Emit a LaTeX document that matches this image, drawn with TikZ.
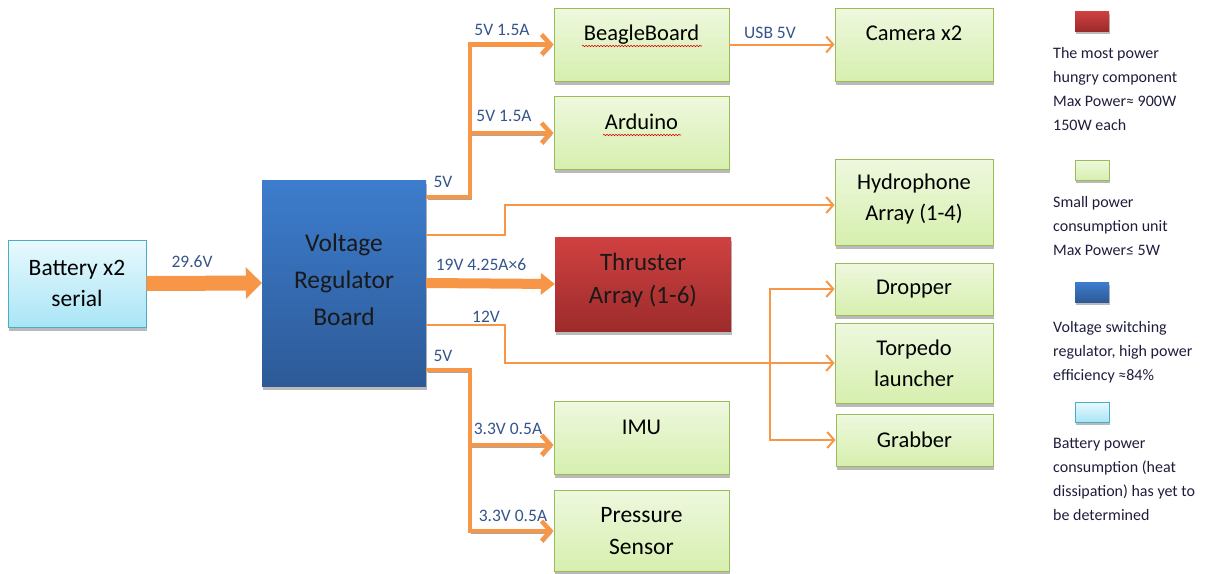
\documentclass[tikz,border=0pt]{standalone}
\usepackage{fontspec}
\setmainfont{Carlito}
\usepackage{xcolor}
\usetikzlibrary{arrows.meta,shadows,decorations.pathmorphing}

\definecolor{feedorange}{HTML}{F79646}
\definecolor{unitline}{HTML}{9BBB59}
\definecolor{unittop}{HTML}{EEF8DE}
\definecolor{unitbot}{HTML}{D6EFAE}
\definecolor{regtop}{HTML}{3D7DCD}
\definecolor{regbot}{HTML}{2D5A97}
\definecolor{thrtop}{HTML}{D04141}
\definecolor{thrbot}{HTML}{9D2B2B}
\definecolor{battop}{HTML}{E8F9FD}
\definecolor{batbot}{HTML}{A9E5F6}
\definecolor{battline}{HTML}{4BACC6}
\definecolor{labelblue}{HTML}{34548A}
\definecolor{legendink}{HTML}{1E1E3C}

\begin{document}
\begin{tikzpicture}[x=1pt, y=-1pt,
    box/.style={inner sep=0pt, align=center, font=\fontsize{22.5}{31}\selectfont,
      drop shadow={shadow xshift=1pt, shadow yshift=-3.5pt, opacity=0.45, fill=black!60}},
    unit/.style={box, draw=unitline, line width=0.9pt, top color=unittop, bottom color=unitbot},
    toptext/.style={text height=16pt, text depth=24pt},
    volt/.style={font=\fontsize{17.5}{20}\selectfont, text=labelblue, inner sep=0pt},
    key/.style={minimum width=34pt, minimum height=20pt, inner sep=0pt,
      drop shadow={shadow xshift=1pt, shadow yshift=-3pt, opacity=0.45, fill=black!60}},
    keytext/.style={anchor=north west, align=left, inner sep=0pt, text=legendink,
      font=\fontsize{16}{24}\selectfont},
    bigfeed/.style={draw=feedorange, line width=15pt, -{Triangle[length=16pt, width=32pt, line width=0pt]}},
    midfeed/.style={draw=feedorange, line width=10pt, -{Triangle[length=14pt, width=22pt, line width=0pt]}},
    feed/.style={draw=feedorange, line width=4.5pt, -{Straight Barb[length=9pt, width=20pt]},
      preaction={draw=black!35, transform canvas={xshift=1.5pt, yshift=-2pt}}},
    wire/.style={draw=feedorange, line width=2pt, -{Straight Barb[length=7pt, width=16pt]}},
    squiggle/.style={draw=red!85!black, line width=0.6pt, decorate,
      decoration={snake, amplitude=0.7pt, segment length=3pt}}
  ]
  \useasboundingbox (0,0) rectangle (1210,573);
  \def\tapx{470}
  \def\bendx{505}
  \def\splitx{770}

  % battery and regulator
  \node[box, draw=battline, line width=0.9pt, top color=battop, bottom color=batbot,
    minimum width=138pt, minimum height=87pt, font=\fontsize{23.5}{31}\selectfont]
    (batt) at (77,283.5) {Battery x2\\serial};
  \node[box, top color=regtop, bottom color=regbot, minimum width=164pt, minimum height=206pt,
    font=\fontsize{25.5}{37}\selectfont, text=black!90, text depth=6pt] (vrb) at (344,283) {Voltage\\Regulator\\Board};
  \node[box, top color=thrtop, bottom color=thrbot, minimum width=176pt, minimum height=94pt,
    font=\fontsize{25}{33}\selectfont, text=black!90, text depth=12pt] (thruster) at (643,284) {Thruster\\Array (1-6)};

  % loads
  \node[unit, toptext, minimum width=175pt, minimum height=73pt] (beagle) at (641.5,44.5) {BeagleBoard};
  \node[unit, toptext, minimum width=175pt, minimum height=73pt] (arduino) at (641.5,133) {Arduino};
  \node[unit, toptext, minimum width=158pt, minimum height=73pt] (camera) at (914,44.5) {Camera x2};
  \node[unit, minimum width=158pt, minimum height=86pt, text depth=10pt] (hydro) at (914,202) {Hydrophone\\Array (1-4)};
  \node[unit, minimum width=158pt, minimum height=52pt] (dropper) at (914,289) {Dropper};
  \node[unit, minimum width=158pt, minimum height=80pt] (torpedo) at (914,363) {Torpedo\\launcher};
  \node[unit, minimum width=157pt, minimum height=52pt] (grabber) at (914.5,440) {Grabber};
  \node[unit, toptext, minimum width=175pt, minimum height=73pt] (imu) at (641.5,438) {IMU};
  \node[unit, minimum width=175pt, minimum height=81pt, font=\fontsize{23.5}{32}\selectfont]
    (pressure) at (641.5,531) {Pressure\\Sensor};

  % spell-check marks
  \draw[squiggle] (582,46) -- (702,46);
  \draw[squiggle] (603,135) -- (681,135);

  % main feeds
  \draw[bigfeed] (batt.east) -- (vrb.west);
  \draw[midfeed] (vrb.east) -- (thruster.west);

  % 5V branch, top
  \coordinate (taptop) at (\tapx,197);
  \draw[feed] (vrb.east |- taptop) -- (taptop) |- (beagle.west);
  \draw[feed] (taptop) |- (arduino.west);

  % 5V branch, bottom
  \coordinate (tapbot) at (\tapx,370);
  \draw[feed] (vrb.east |- tapbot) -- (tapbot) |- ([yshift=-7pt]imu.west);
  \draw[feed] (tapbot) |- (pressure.west);

  % thin lines
  \draw[wire] (beagle.east) -- (camera.west);
  \coordinate (hbend) at (\bendx,235);
  \draw[wire] (vrb.east |- hbend) -- (hbend) |- ([yshift=-3pt]hydro.west);
  \coordinate (tbend) at (\bendx,325);
  \draw[wire] (vrb.east |- tbend) -- (tbend) |- (torpedo.west);
  \coordinate (split) at (\splitx,363);
  \draw[wire] (split) |- (dropper.west);
  \draw[wire] (split) |- (grabber.west);

  % voltage labels
  \node[volt] (lbatt) at (192,262) {29.6V};
  \node[volt] (lthr) at (481,265) {19V 4.25A×6};
  \node[volt] (ltop) at (443,182) {5V};
  \node[volt] (lbeagle) at (502,30) {5V 1.5A};
  \node[volt] (lard) at (504,116) {5V 1.5A};
  \node[volt] (l12) at (486,317) {12V};
  \node[volt] (lbot) at (443,356) {5V};
  \node[volt] (limu) at (508,429) {3.3V 0.5A};
  \node[volt] (lpres) at (513,516) {3.3V 0.5A};
  \node[volt] (lusb) at (770,33) {USB 5V};

  % legend
  \node[key, top color=thrtop, bottom color=thrbot] (keyhungry) at (1092,21) {};
  \node[keytext] (txthungry) at (1053,47) {The most power\\hungry component\\Max Power≈ 900W\\150W each};
  \node[key, draw=unitline, line width=0.9pt, top color=unittop, bottom color=unitbot] (keysmall) at (1092,170) {};
  \node[keytext] (txtsmall) at (1053,196) {Small power\\consumption unit\\Max Power≤ 5W};
  \node[key, top color=regtop, bottom color=regbot] (keyreg) at (1092,292) {};
  \node[keytext] (txtreg) at (1053,321) {Voltage switching\\regulator, high power\\efficiency ≈84\%};
  \node[key, draw=battline, line width=0.9pt, top color=battop, bottom color=batbot] (keybatt) at (1092,412) {};
  \node[keytext] (txtbatt) at (1053,438) {Battery power\\consumption (heat\\dissipation) has yet to\\be determined};
\end{tikzpicture}
\end{document}
